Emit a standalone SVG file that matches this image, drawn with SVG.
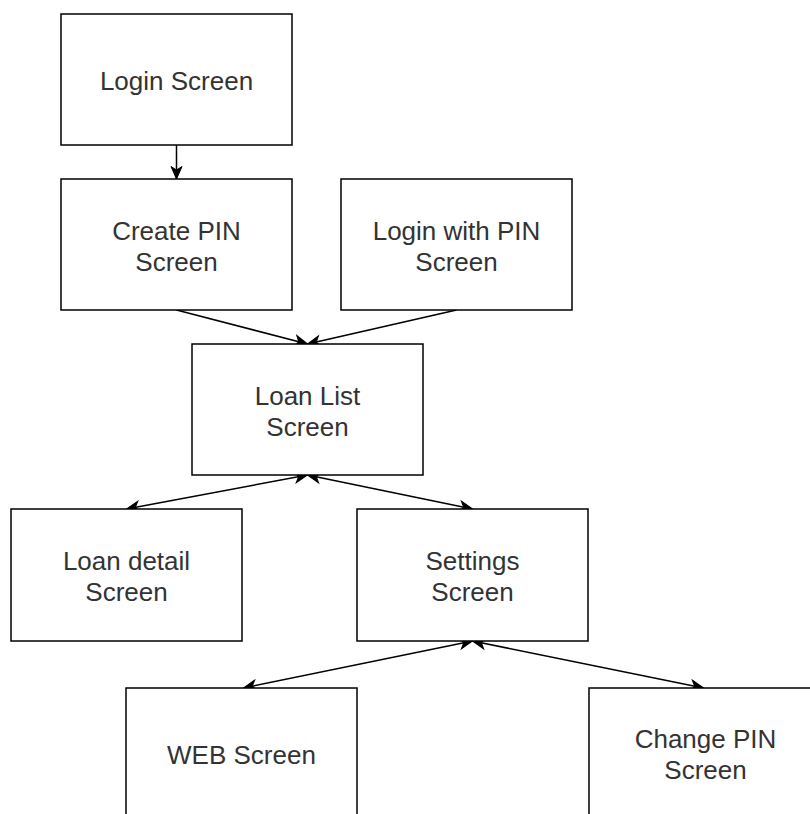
<svg xmlns="http://www.w3.org/2000/svg" width="810" height="814" viewBox="0 0 810 814">
  <style>
    .box { fill: #ffffff; stroke: #000000; stroke-width: 1.5; }
    .lbl { font-family: "Liberation Sans", Arial, Helvetica, sans-serif; font-size: 26px; fill: #333333; text-anchor: middle; }
    .edge { fill: none; stroke: #000000; stroke-width: 1.5; }
  </style>
  <defs>
    <marker id="classic" viewBox="-14 -7 15 14" refX="0" refY="0" markerWidth="15" markerHeight="14" markerUnits="userSpaceOnUse" orient="auto-start-reverse">
      <path d="M0,0 L-12.5,-5.5 L-9,0 L-12.5,5.5 Z" fill="#000000" stroke="#000000" stroke-width="1"/>
    </marker>
  </defs>
  <rect width="810" height="814" fill="#ffffff"/>

  <g id="connectors">
    <path class="edge" d="M176.5,145 L176.5,179" marker-end="url(#classic)"/>
    <path class="edge" d="M176.5,310 L307.5,344" marker-end="url(#classic)"/>
    <path class="edge" d="M456.5,310 L307.5,344" marker-end="url(#classic)"/>
    <path class="edge" d="M307.5,475 L126.5,509" marker-start="url(#classic)" marker-end="url(#classic)"/>
    <path class="edge" d="M307.5,475 L472.5,509" marker-start="url(#classic)" marker-end="url(#classic)"/>
    <path class="edge" d="M472.5,641 L243.5,688" marker-start="url(#classic)" marker-end="url(#classic)"/>
    <path class="edge" d="M472.5,641 L703.5,688" marker-start="url(#classic)" marker-end="url(#classic)"/>
  </g>

  <g id="login">
    <rect class="box" x="61" y="14" width="231" height="131"/>
    <text class="lbl" x="176.5" y="90">Login Screen</text>
  </g>

  <g id="create-pin">
    <rect class="box" x="61" y="179" width="231" height="131"/>
    <text class="lbl" x="176.5" y="240">Create PIN</text>
    <text class="lbl" x="176.5" y="271">Screen</text>
  </g>

  <g id="login-pin">
    <rect class="box" x="341" y="179" width="231" height="131"/>
    <text class="lbl" x="456.5" y="240">Login with PIN</text>
    <text class="lbl" x="456.5" y="271">Screen</text>
  </g>

  <g id="loan-list">
    <rect class="box" x="192" y="344" width="231" height="131"/>
    <text class="lbl" x="307.5" y="405">Loan List</text>
    <text class="lbl" x="307.5" y="436">Screen</text>
  </g>

  <g id="loan-detail">
    <rect class="box" x="11" y="509" width="231" height="132"/>
    <text class="lbl" x="126.5" y="570">Loan detail</text>
    <text class="lbl" x="126.5" y="601">Screen</text>
  </g>

  <g id="settings">
    <rect class="box" x="357" y="509" width="231" height="132"/>
    <text class="lbl" x="472.5" y="570">Settings</text>
    <text class="lbl" x="472.5" y="601">Screen</text>
  </g>

  <g id="web">
    <rect class="box" x="126" y="688" width="231" height="132"/>
    <text class="lbl" x="241.5" y="764">WEB Screen</text>
  </g>

  <g id="change-pin">
    <rect class="box" x="589" y="688" width="233" height="132"/>
    <text class="lbl" x="705.5" y="748">Change PIN</text>
    <text class="lbl" x="705.5" y="779">Screen</text>
  </g>
</svg>
